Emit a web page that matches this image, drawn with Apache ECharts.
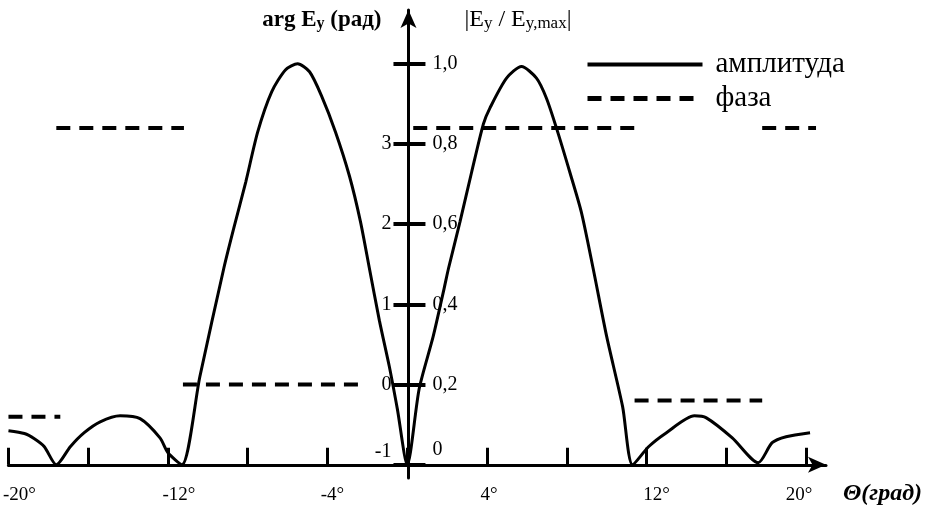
<!DOCTYPE html>
<html>
<head>
<meta charset="utf-8">
<title>Амплитуда и фаза</title>
<script src="https://cdn.jsdelivr.net/npm/echarts@6/dist/echarts.min.js"></script>
<style>
  html, body { margin: 0; padding: 0; background: #fff; }
  #chart { width: 933px; height: 512px; }
</style>
</head>
<body>
<div id="chart"></div>
<script>
// амплитуда |Ey / Ey,max| по углу (град)
const ampX = [-20, -19.2, -18.7, -18.2, -17.6, -16.9, -16.2, -15.4, -14.4, -13.4, -12.4, -12.0, -11.3,
  -10.4, -9.2, -8.7, -8.1, -7.5, -6.8, -6.1, -5.5, -4.9, -4.3, -3.6, -2.9, -2.35, -1.9, -1.4, -0.9, -0.5, 0,
  0.6, 1.3, 1.85, 2.07, 2.65, 3.23, 3.82, 4.15, 4.98, 5.73, 6.48, 6.98, 7.48, 8.15, 8.73, 9.32, 10.0, 10.8, 11.3,
  12.1, 13.0, 14.4, 15.0, 16.3, 17.6, 18.3, 19.0, 20.2];
const ampY = [0.085, 0.078, 0.065, 0.045, 0, 0.045, 0.08, 0.107, 0.122, 0.115, 0.067, 0.03, 0,
  0.22, 0.49, 0.59, 0.705, 0.83, 0.93, 0.985, 1.0, 0.98, 0.92, 0.83, 0.72, 0.607, 0.49, 0.36, 0.245, 0.14, 0,
  0.19, 0.32, 0.44, 0.49, 0.607, 0.73, 0.85, 0.89, 0.964, 0.993, 0.964, 0.914, 0.84, 0.73, 0.63, 0.49, 0.32, 0.145, 0,
  0.045, 0.08, 0.122, 0.117, 0.067, 0.005, 0.055, 0.07, 0.08];

// фаза arg Ey (рад), null = разрыв
const phaseX = [-20, -17.4, null, -17.6, -11.2, null, -11.25, -2.1, null, 0.3, 11.4, null, 11.4, 17.8, null, 17.8, 20.5];
const phaseY = [-0.4, -0.4, null, 3.2, 3.2, null, 0, 0, null, 3.2, 3.2, null, -0.2, -0.2, null, 3.2, 3.2];

const degTicks = [-20, -16, -12, -8, -4, 0, 4, 8, 12, 16, 20];
const degLabels = [-20, -12, -4, 4, 12, 20];
const phaseTicks = [-1, 0, 1, 2, 3, 4];
const phaseLabels = [-1, 0, 1, 2, 3];
const ampTicks = [0, 0.2, 0.4, 0.6, 0.8, 1.0];

const serif = '"Liberation Serif", "DejaVu Serif", serif';
const black = '#000';

const ampData = ampX.map((x, i) => [x, ampY[i]]);
const phaseData = phaseX.map((x, i) => [x, phaseY[i]]);

// small horizontal nudges of the degree labels, as in the original drawing
const degPad = { '-20': [0, 0, 0, 22], '-12': [0, 0, 0, 22], '-4': [0, 0, 0, 10], '4': [0, 0, 0, 4], '12': [0, 0, 0, 20], '20': [0, 14, 0, 0] };
const degRich = {};
Object.keys(degPad).forEach((k, i) => {
  degRich['d' + i] = { fontFamily: serif, fontSize: 19, color: black, padding: degPad[k] };
});

const option = {
  animation: false,
  backgroundColor: '#fff',
  grid: { left: 7, right: 107, top: 10, bottom: 34, containLabel: false },
  legend: {
    data: [
      { name: 'амплитуда', lineStyle: { color: black, width: 4, type: 'solid' } },
      { name: 'фаза', lineStyle: { color: black, width: 5, type: [14, 9] } },
    ],
    orient: 'vertical',
    left: 580,
    top: 45,
    itemWidth: 115,
    itemHeight: 20,
    itemGap: 5,
    itemStyle: { color: 'rgba(0,0,0,0)', borderWidth: 0 },
    textStyle: { fontSize: 29, fontFamily: serif, color: black, padding: [4, 0, 0, 8] },
  },
  xAxis: {
    type: 'value',
    min: -20,
    max: 21,
    name: 'Θ(град)',
    nameLocation: 'end',
    nameGap: 17,
    nameTextStyle: {
      fontFamily: serif, fontSize: 24, fontStyle: 'italic', fontWeight: 'bold', color: black,
      align: 'left', verticalAlign: 'top', padding: [17, 0, 0, 0],
    },
    axisLine: {
      onZero: true,
      onZeroAxisIndex: 1,
      symbol: ['none', 'arrow'],
      symbolSize: [12, 18],
      lineStyle: { color: black, width: 3 },
    },
    axisTick: { customValues: degTicks, inside: true, length: 17, lineStyle: { color: black, width: 3 } },
    axisLabel: {
      customValues: degLabels,
      margin: 8,
      fontFamily: serif,
      fontSize: 19,
      color: black,
      formatter: v => {
        const i = Object.keys(degPad).indexOf(String(v));
        return i >= 0 ? '{d' + i + '|' + v + '°}' : v + '°';
      },
      rich: degRich,
    },
    splitLine: { show: false },
  },
  yAxis: [
    {
      type: 'value',
      min: -1.165,
      max: 4.67,
      position: 'left',
      offset: -400,
      name: '{n|arg E}{s|y}{n| (рад)}',
      nameLocation: 'end',
      nameGap: -10,
      nameTextStyle: {
        align: 'right', verticalAlign: 'middle', padding: [0, 27, 0, 0],
        rich: {
          n: { fontFamily: serif, fontSize: 23, fontWeight: 'bold', color: black, verticalAlign: 'bottom' },
          s: { fontFamily: serif, fontSize: 16, fontWeight: 'bold', color: black, verticalAlign: 'bottom' },
        },
      },
      axisLine: {
        onZero: false,
        symbol: ['none', 'arrow'],
        symbolSize: [12, 18],
        lineStyle: { color: black, width: 3 },
      },
      axisTick: { customValues: phaseTicks, length: 15, lineStyle: { color: black, width: 4 } },
      axisLabel: {
        customValues: phaseLabels,
        margin: 17,
        fontFamily: serif,
        fontSize: 20,
        color: black,
        formatter: v => (v === -1 ? '{low|-1}' : String(v)),
        rich: { low: { fontFamily: serif, fontSize: 20, color: black, padding: [0, 0, 26, 0] } },
      },
      splitLine: { show: false },
    },
    {
      type: 'value',
      min: -0.033,
      max: 1.134,
      position: 'left',
      offset: -400,
      name: '{n||E}{s|y}{n| / E}{s|y,max}{n||}',
      nameLocation: 'end',
      nameGap: -10,
      nameTextStyle: {
        align: 'left', verticalAlign: 'middle', padding: [0, 0, 0, 56],
        rich: {
          n: { fontFamily: serif, fontSize: 24, color: black, verticalAlign: 'bottom' },
          s: { fontFamily: serif, fontSize: 17, color: black, verticalAlign: 'bottom' },
        },
      },
      axisLine: { show: false, onZero: false },
      axisTick: { customValues: ampTicks, inside: true, length: 17, lineStyle: { color: black, width: 4 } },
      axisLabel: {
        customValues: ampTicks,
        inside: true,
        margin: 24,
        fontFamily: serif,
        fontSize: 20,
        color: black,
        formatter: v => (v === 0 ? '{low|0}' : v.toFixed(1).replace('.', ',')),
        rich: { low: { fontFamily: serif, fontSize: 20, color: black, padding: [0, 0, 30, 0] } },
      },
      splitLine: { show: false },
    },
  ],
  series: [
    {
      name: 'амплитуда',
      type: 'line',
      yAxisIndex: 1,
      data: ampData,
      symbol: 'none',
      smooth: 0.25,
      color: black,
      lineStyle: { color: black, width: 3 },
    },
    {
      name: 'фаза',
      type: 'line',
      yAxisIndex: 0,
      data: phaseData,
      symbol: 'none',
      connectNulls: false,
      color: black,
      lineStyle: { color: black, width: 4, type: [14, 9] },
    },
  ],
};

const myChart = echarts.init(document.getElementById('chart'));
myChart.setOption(option);
</script>
</body>
</html>
